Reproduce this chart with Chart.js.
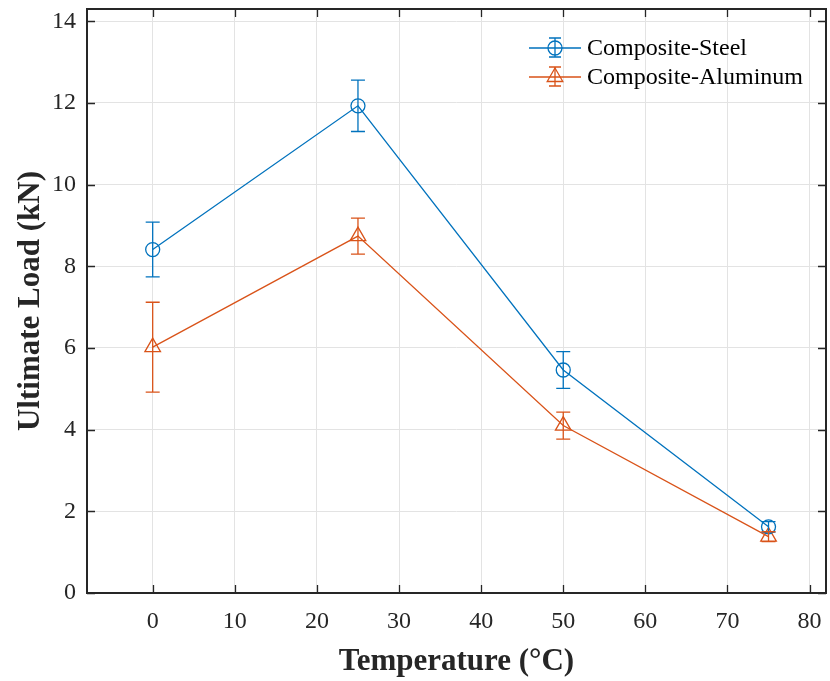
<!DOCTYPE html>
<html><head><meta charset="utf-8">
<script src="https://cdn.jsdelivr.net/npm/chart.js@4"></script>
<style>html,body{margin:0;padding:0;background:#fff;} canvas{display:block}</style>
</head><body>
<canvas id="c" width="830" height="681"></canvas>
<script>
const temperatures = [0, 25, 50, 75];
const steelLoad = [8.41, 11.93, 5.46, 1.62];
const steelErr = [0.67, 0.63, 0.45, 0.13];
const aluminumLoad = [6.02, 8.74, 4.10, 1.38];
const aluminumErr = [1.10, 0.44, 0.33, 0.12];
const seriesNames = ['Composite-Steel', 'Composite-Aluminum'];
const xTicks = [0, 10, 20, 30, 40, 50, 60, 70, 80];
const yTicks = [0, 2, 4, 6, 8, 10, 12, 14];

const BLUE = '#0072BD', ORANGE = '#D95319', AX = '#262626';
const FONT = '"Liberation Serif", "Times New Roman", serif';
const NOPAD = () => ({ left: 0, top: 0, right: 0, bottom: 0 });

function pts(xs, ys){ return xs.map((x,i)=>({x:x, y:ys[i]})); }

const errPlugin = {
  id: 'errbars',
  afterDatasetsDraw(chart){
    const ctx = chart.ctx, xs = chart.scales.x, ys = chart.scales.y;
    chart.data.datasets.forEach(ds => {
      ctx.save();
      ctx.strokeStyle = ds.borderColor; ctx.lineWidth = 1.3;
      ds.data.forEach((p,i) => {
        const e = ds.errors[i];
        const px = xs.getPixelForValue(p.x);
        const top = ys.getPixelForValue(p.y + e), bot = ys.getPixelForValue(p.y - e);
        ctx.beginPath();
        ctx.moveTo(px, top); ctx.lineTo(px, bot);
        ctx.moveTo(px-7, top); ctx.lineTo(px+7, top);
        ctx.moveTo(px-7, bot); ctx.lineTo(px+7, bot);
        ctx.stroke();
      });
      ctx.restore();
    });
  },
  afterDraw(chart){
    const ctx = chart.ctx, a = chart.chartArea, xs = chart.scales.x, ys = chart.scales.y;
    ctx.save();
    ctx.strokeStyle = AX; ctx.lineWidth = 1.3;
    ctx.beginPath();
    xTicks.forEach(v => { const px = Math.round(xs.getPixelForValue(v))+0.5;
      ctx.moveTo(px, a.bottom); ctx.lineTo(px, a.bottom-8);
      ctx.moveTo(px, a.top); ctx.lineTo(px, a.top+8); });
    yTicks.forEach(v => { const py = Math.round(ys.getPixelForValue(v))+0.5;
      ctx.moveTo(a.left, py); ctx.lineTo(a.left+8, py);
      ctx.moveTo(a.right, py); ctx.lineTo(a.right-8, py); });
    ctx.stroke();
    ctx.lineWidth = 2;
    ctx.strokeRect(a.left, a.top, a.right-a.left, a.bottom-a.top);
    // legend
    const items = [{c:BLUE, s:'circle', r:7, t:seriesNames[0], y:48},{c:ORANGE, s:'triangle', r:9, t:seriesNames[1], y:77}];
    items.forEach(it => {
      ctx.strokeStyle = it.c; ctx.lineWidth = 1.3;
      ctx.beginPath();
      ctx.moveTo(529, it.y); ctx.lineTo(581, it.y);
      ctx.moveTo(555, it.y-10); ctx.lineTo(555, it.y+9);
      ctx.moveTo(549, it.y-10); ctx.lineTo(561, it.y-10);
      ctx.moveTo(549, it.y+9); ctx.lineTo(561, it.y+9);
      ctx.stroke();
      ctx.fillStyle = 'rgba(0,0,0,0)';
      Chart.helpers.drawPoint(ctx, {pointStyle: it.s, radius: it.r, borderWidth: 1.3}, 555, it.y);
      ctx.fillStyle = '#000'; ctx.font = '24px ' + FONT;
      ctx.textBaseline = 'middle'; ctx.textAlign = 'left';
      ctx.fillText(it.t, 587, it.y+1);
    });
    ctx.restore();
  }
};

new Chart(document.getElementById('c'), {
  type: 'line',
  data: { datasets: [
    { label: seriesNames[0], data: pts(temperatures, steelLoad), errors: steelErr,
      borderColor: BLUE, backgroundColor: 'rgba(0,0,0,0)', borderWidth: 1.3,
      pointStyle: 'circle', pointRadius: 7, pointBorderWidth: 1.3, pointBorderColor: BLUE,
      pointBackgroundColor: 'rgba(0,0,0,0)', tension: 0 },
    { label: seriesNames[1], data: pts(temperatures, aluminumLoad), errors: aluminumErr,
      borderColor: ORANGE, backgroundColor: 'rgba(0,0,0,0)', borderWidth: 1.3,
      pointStyle: 'triangle', pointRadius: 9, pointBorderWidth: 1.3, pointBorderColor: ORANGE,
      pointBackgroundColor: 'rgba(0,0,0,0)', tension: 0 }
  ]},
  options: {
    responsive: false, animation: false, devicePixelRatio: 1,
    layout: { autoPadding: false, padding: { left: 0, top: 9, right: 4, bottom: 0 } },
    plugins: { legend: { display: false }, tooltip: { enabled: false } },
    scales: {
      x: { type: 'linear', min: -8, max: 82,
        afterBuildTicks: s => { s.ticks = xTicks.map(v => ({value: v})); },
        afterFit: s => { s.height = 88; s.paddingLeft = 0; s.paddingRight = 0; s.getPadding = NOPAD; },
        grid: { color: '#e3e3e3', lineWidth: 1, drawTicks: false },
        border: { display: false },
        ticks: { color: AX, font: { family: FONT, size: 24 }, padding: 14, maxRotation: 0 },
        title: { display: true, text: 'Temperature (°C)', color: AX,
          font: { family: FONT, size: 31, weight: 'bold' }, padding: { top: 0, bottom: 0 } } },
      y: { min: 0, max: 14.3,
        afterBuildTicks: s => { s.ticks = yTicks.map(v => ({value: v})); },
        afterFit: s => { s.width = 87; s.paddingTop = 0; s.paddingBottom = 0; s.getPadding = NOPAD; },
        grid: { color: '#e3e3e3', lineWidth: 1, drawTicks: false },
        border: { display: false },
        ticks: { color: AX, font: { family: FONT, size: 24 }, padding: 11 },
        title: { display: true, text: 'Ultimate Load (kN)', color: AX,
          font: { family: FONT, size: 31, weight: 'bold' }, padding: 12 } }
    }
  },
  plugins: [errPlugin]
});
</script>
</body></html>
